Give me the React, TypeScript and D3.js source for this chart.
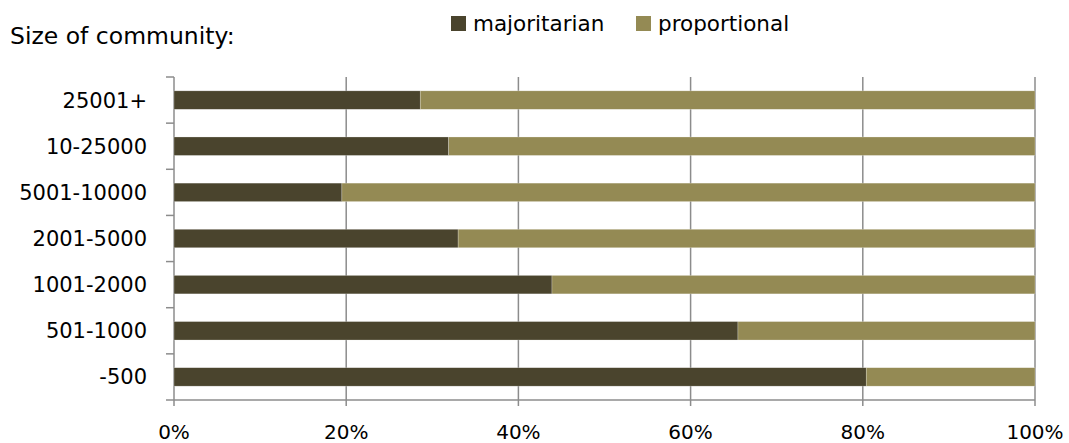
import React, { useEffect, useRef } from "react";
import * as d3 from "d3";

const categories = [
  "25001+",
  "10-25000",
  "5001-10000",
  "2001-5000",
  "1001-2000",
  "501-1000",
  "-500",
];
const majoritarian = [28.6, 31.9, 19.5, 33.0, 43.9, 65.5, 80.4];
const proportional = majoritarian.map((v) => 100 - v);
const xTicks = [0, 20, 40, 60, 80, 100];
const seriesNames = ["majoritarian", "proportional"];
const colors = ["#4a442d", "#948a54"];

const App = () => {
  const ref = useRef<SVGSVGElement | null>(null);

  useEffect(() => {
    const svg = d3.select(ref.current);
    svg.selectAll("*").remove();

    const font = "'DejaVu Sans', sans-serif";
    const margin = { top: 77, left: 174, right: 1069 - 1035, bottom: 443 - 400 };
    const width = 1069 - margin.left - margin.right;
    const height = 443 - margin.top - margin.bottom;

    const g = svg
      .append("g")
      .attr("transform", `translate(${margin.left},${margin.top})`);

    const x = d3.scaleLinear().domain([0, 100]).range([0, width]);
    const y = d3
      .scaleBand<string>()
      .domain(categories)
      .range([0, height])
      .paddingInner(0.6)
      .paddingOuter(0.3);

    // vertical gridlines + ticks below
    g.selectAll("line.grid")
      .data(xTicks)
      .enter()
      .append("line")
      .attr("class", "grid")
      .attr("x1", (d) => x(d))
      .attr("x2", (d) => x(d))
      .attr("y1", 0)
      .attr("y2", height + 6)
      .attr("stroke", "#8c8c8c")
      .attr("stroke-width", 1.5);

    // x axis line
    g.append("line")
      .attr("x1", 0)
      .attr("x2", width)
      .attr("y1", height)
      .attr("y2", height)
      .attr("stroke", "#8c8c8c")
      .attr("stroke-width", 1.5);

    // y axis ticks at band boundaries
    const step = y.step();
    const bounds = d3.range(categories.length + 1).map((i) => i * step);
    g.selectAll("line.ytick")
      .data(bounds)
      .enter()
      .append("line")
      .attr("class", "ytick")
      .attr("x1", -8)
      .attr("x2", 0)
      .attr("y1", (d) => d)
      .attr("y2", (d) => d)
      .attr("stroke", "#8c8c8c")
      .attr("stroke-width", 1.5);

    // stacked bars
    const stackData = categories.map((c, i) => ({
      cat: c,
      majoritarian: majoritarian[i],
      proportional: proportional[i],
    }));
    const stack = d3.stack<any>().keys(seriesNames)(stackData);

    g.selectAll("g.series")
      .data(stack)
      .enter()
      .append("g")
      .attr("class", "series")
      .attr("fill", (d, i) => colors[i])
      .selectAll("rect")
      .data((d) => d)
      .enter()
      .append("rect")
      .attr("x", (d) => x(d[0]))
      .attr("width", (d) => x(d[1]) - x(d[0]))
      .attr("y", (d) => y(d.data.cat) as number)
      .attr("height", y.bandwidth())
      .attr("stroke", "#ffffff")
      .attr("stroke-opacity", 0.4)
      .attr("stroke-width", 0.6);

    // y labels
    g.selectAll("text.ylab")
      .data(categories)
      .enter()
      .append("text")
      .attr("class", "ylab")
      .attr("x", -27)
      .attr("y", (d) => (y(d) as number) + y.bandwidth() / 2)
      .attr("dy", "0.36em")
      .attr("text-anchor", "end")
      .attr("font-family", font)
      .attr("font-size", 21)
      .attr("fill", "#000")
      .text((d) => d);

    // x labels
    g.selectAll("text.xlab")
      .data(xTicks)
      .enter()
      .append("text")
      .attr("class", "xlab")
      .attr("x", (d) => x(d))
      .attr("y", height + 39)
      .attr("text-anchor", "middle")
      .attr("font-family", font)
      .attr("font-size", 20)
      .attr("fill", "#000")
      .text((d) => d + "%");

    // title-ish label
    svg
      .append("text")
      .attr("x", 10)
      .attr("y", 44)
      .attr("font-family", font)
      .attr("font-size", 23.5)
      .attr("fill", "#000")
      .text("Size of community:");

    // legend
    const legendX = [451, 636];
    seriesNames.forEach((name, i) => {
      svg
        .append("rect")
        .attr("x", legendX[i])
        .attr("y", 16)
        .attr("width", 15)
        .attr("height", 15)
        .attr("fill", colors[i]);
      svg
        .append("text")
        .attr("x", legendX[i] + 22)
        .attr("y", 31)
        .attr("font-family", font)
        .attr("font-size", 21.5)
        .attr("fill", "#000")
        .text(name);
    });
  }, []);

  return (
    <svg
      ref={ref}
      width={1069}
      height={443}
      style={{ position: "absolute", left: 0, top: 0, background: "#fff" }}
    />
  );
};

export default App;
